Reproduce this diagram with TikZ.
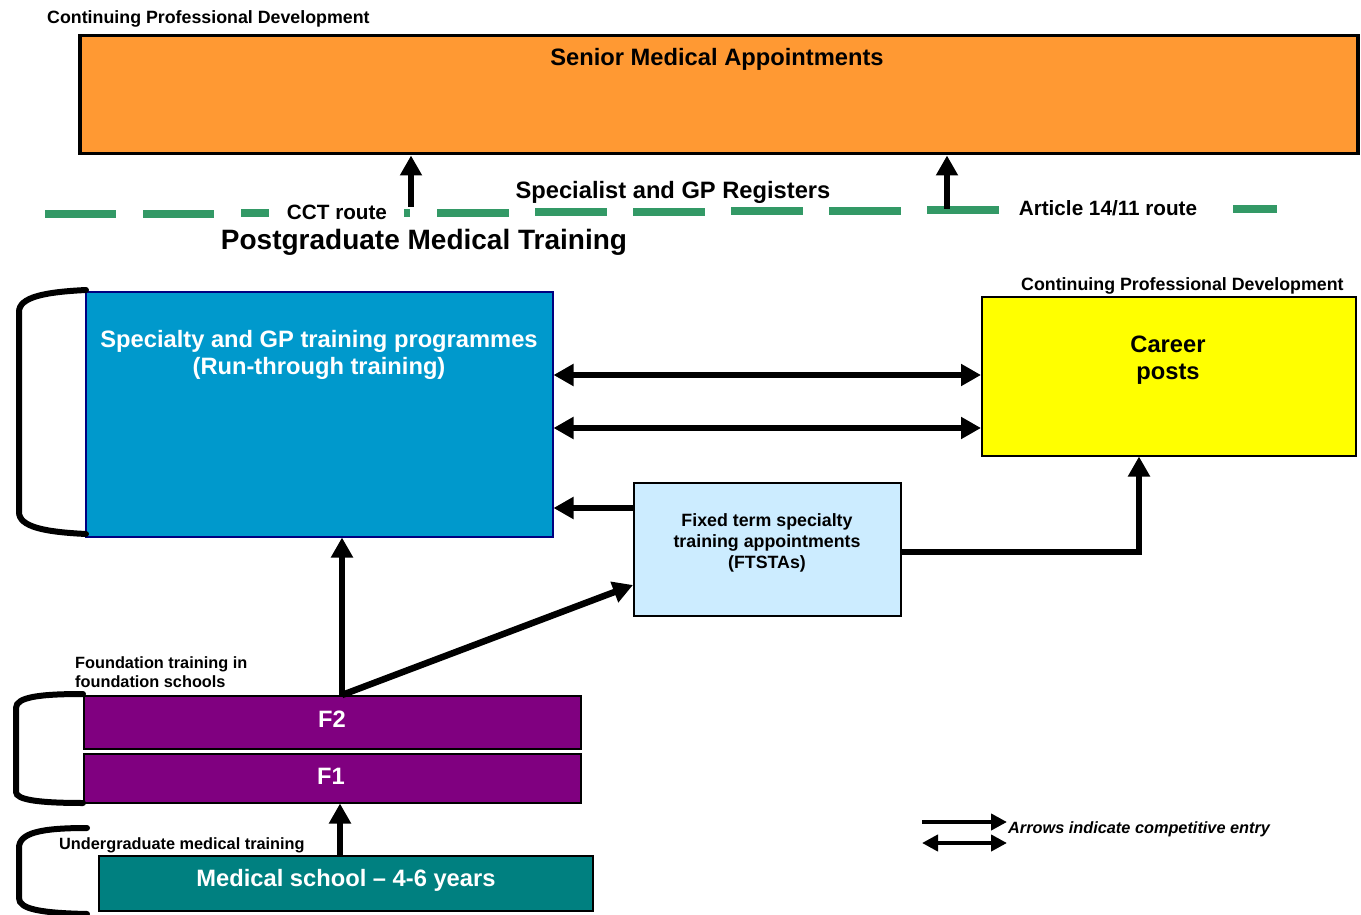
\documentclass[tikz,border=0pt]{standalone}
\usepackage{fontspec}
\setmainfont{Liberation Sans}
\usetikzlibrary{arrows.meta}
\definecolor{smaorange}{HTML}{FF9933}
\definecolor{sptblue}{HTML}{0099CC}
\definecolor{navyb}{HTML}{000080}
\definecolor{caryellow}{HTML}{FFFF00}
\definecolor{ftblue}{HTML}{CCECFF}
\definecolor{fpurple}{HTML}{800080}
\definecolor{medteal}{HTML}{008080}
\definecolor{dgreen}{HTML}{339966}
\newcommand\szPGT{\fontsize{28}{32}\selectfont\bfseries}
\newcommand\szBig{\fontsize{23.7}{27.5}\selectfont\bfseries}
\newcommand\szMed{\fontsize{20.7}{24}\selectfont\bfseries}
\newcommand\szSm{\fontsize{17.8}{21}\selectfont\bfseries}
\newcommand\szXs{\fontsize{16.3}{18.5}\selectfont\bfseries}
\begin{document}
\begin{tikzpicture}[x=1pt,y=-1pt,
  box/.style={draw, line width=1.5, anchor=north west, inner sep=0pt},
  txt/.style={inner sep=0pt, align=center},
  arr/.style={line width=6.5, -{Triangle[width=21pt,length=20pt]}},
  darr/.style={line width=6.5, {Triangle[width=21pt,length=20pt]}-{Triangle[width=21pt,length=20pt]}},
  larr/.style={line width=4.5, -{Triangle[width=16pt,length=16pt]}},
  ldarr/.style={line width=4.5, {Triangle[width=16pt,length=16pt]}-{Triangle[width=16pt,length=16pt]}},
  bracket/.style={line width=6, line cap=round},
  gdash/.style={line width=8, draw=dgreen}]
\useasboundingbox (0,0) rectangle (1361,915);

% top box
\node[txt, font=\szSm, anchor=west] (cpd1) at (47,19) {Continuing Professional Development};
\node[box, fill=smaorange, line width=3.5, minimum width=1278, minimum height=118] (sma) at (78,34) {};
\node[txt, font=\szBig] (smt) at (717,59) {Senior Medical Appointments};

% green dashed line
\foreach \xa/\xb/\yy in {45/116/214, 143/214/214, 241/269/213, 404/410/213, 437/509/213,
  535/607/212, 633/705/212, 731/803/211, 829/901/211, 927/999/210, 1233/1277/209}
  \draw[gdash] (\xa,\yy) -- (\xb,\yy);

\node[txt, font=\szBig] (sgr) at (673,192) {Specialist and GP Registers};
\node[txt, font=\szMed] (cct) at (337,212) {CCT route};
\node[txt, font=\szMed] (art) at (1108,208) {Article 14/11 route};
\node[txt, font=\szPGT] (pgt) at (424,242) {Postgraduate Medical Training};

\coordinate (c1) at (411,207);
\coordinate (c2) at (947,209);
\draw[arr] (c1) -- (c1 |- sma.south);
\draw[arr] (c2) -- (c2 |- sma.south);

% specialty box
\node[box, fill=sptblue, draw=navyb, minimum width=467, minimum height=245] (blue) at (85,291) {};
\node[txt, font=\szBig, text=white] (spt) at (319,355) {Specialty and GP training programmes\\(Run-through training)};
\draw[bracket] (86,290) .. controls (45,292) and (19,297) .. (19,312) -- (19,512) .. controls (19,527) and (45,532) .. (86,534);

% career posts
\node[txt, font=\szSm, anchor=west] (cpd2) at (1021,286) {Continuing Professional Development};
\node[box, fill=caryellow, minimum width=374, minimum height=159] (yellow) at (981,296) {};
\node[txt, font=\szBig] (cpt) at (1168,360) {Career\\posts};

% FTSTA
\node[box, fill=ftblue, minimum width=267, minimum height=133] (ftsta) at (633,482) {};
\node[txt, font=\szSm] (ftt) at (767,543) {Fixed term specialty\\training appointments\\(FTSTAs)};

\coordinate (y375) at (0,375);
\coordinate (y428) at (0,428);
\coordinate (y508) at (0,508);
\coordinate (y585) at (0,585);
\coordinate (cp) at (1139,552);
\draw[darr] (blue.east |- y375) -- (yellow.west |- y375);
\draw[darr] (blue.east |- y428) -- (yellow.west |- y428);
\draw[arr] (ftsta.west |- y508) -- (blue.east |- y508);
\draw[arr] (ftsta.east |- cp) -- (cp) -- (cp |- yellow.south);

% foundation
\node[txt, font=\szXs, anchor=west, align=left] (fnd) at (75,672) {Foundation training in\\foundation schools};
\node[box, fill=fpurple, minimum width=497, minimum height=53] (f2) at (83,695) {};
\node[txt, font=\szBig, text=white] (f2t) at (332,719) {F2};
\node[box, fill=fpurple, minimum width=497, minimum height=49] (f1) at (83,753) {};
\node[txt, font=\szBig, text=white] (f1t) at (331,776) {F1};
\draw[bracket] (83,694) .. controls (40,694) and (16,697) .. (16,708) -- (16,792) .. controls (16,800) and (40,803) .. (83,803);

\coordinate (fs) at (342,695);
\draw[arr] (fs) -- (fs |- blue.south);
\draw[arr] (fs) -- (ftsta.west |- y585);

% medical school
\node[txt, font=\szXs, anchor=west] (ugt) at (59,845) {Undergraduate medical training};
\node[box, fill=medteal, minimum width=494, minimum height=55] (med) at (98,855) {};
\node[txt, font=\szBig, text=white] (medt) at (346,880) {Medical school -- 4-6 years};
\draw[bracket] (87,828) .. controls (40,828) and (19,833) .. (19,848) -- (19,898) .. controls (19,909) and (40,913) .. (87,914);
\coordinate (ms) at (340,855);
\draw[arr] (ms) -- (ms |- f1.south);

% legend
\coordinate (l1) at (922,822);
\coordinate (l2) at (1007,822);
\coordinate (l3) at (922,843);
\coordinate (l4) at (1007,843);
\draw[larr] (l1) -- (l2);
\draw[ldarr] (l3) -- (l4);
\node[txt, font=\szXs\itshape, anchor=west] (leg) at (1008,829) {Arrows indicate competitive entry};
\end{tikzpicture}
\end{document}
